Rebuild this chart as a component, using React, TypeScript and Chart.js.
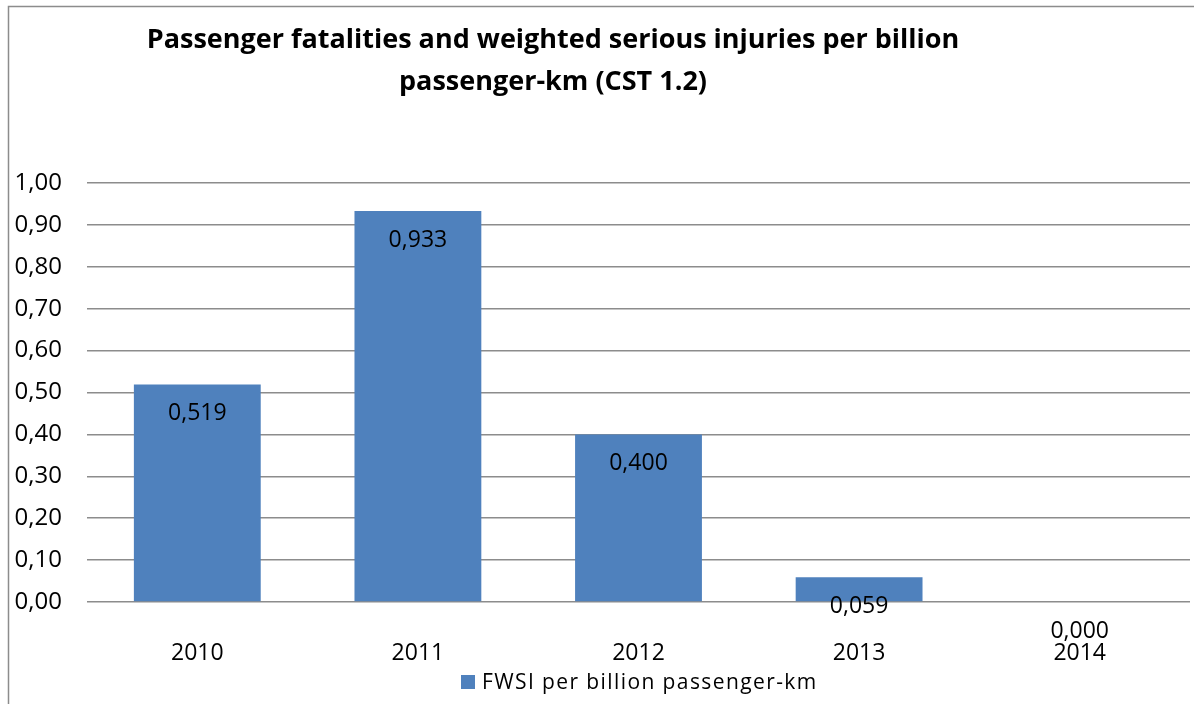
import React, { useEffect, useRef } from "react";
import { Chart, registerables } from "chart.js";

Chart.register(...registerables);

const categories = ["2010", "2011", "2012", "2013", "2014"];
const fwsiValues = [0.519, 0.933, 0.4, 0.059, 0.0];
const seriesLabel = "FWSI per billion passenger-km";
const titleLines = [
  "Passenger fatalities and weighted serious injuries per billion",
  "passenger-km (CST 1.2)",
];

const FONT = "'Open Sans', sans-serif";
const BAR_COLOR = "#4F81BD";
const GRID_COLOR = "#8C8C8C";

const fmt = (v: number, d: number) => v.toFixed(d).replace(".", ",");

const decorPlugin = {
  id: "decor",
  beforeDraw(chart: any) {
    const { ctx } = chart;
    ctx.save();
    ctx.fillStyle = "#ffffff";
    ctx.fillRect(0, 0, chart.width, chart.height);
    ctx.strokeStyle = GRID_COLOR;
    ctx.lineWidth = 1.5;
    ctx.beginPath();
    ctx.moveTo(8.5, chart.height);
    ctx.lineTo(8.5, 6.5);
    ctx.lineTo(chart.width, 6.5);
    ctx.stroke();
    ctx.restore();
  },
  afterDraw(chart: any) {
    const { ctx } = chart;
    ctx.save();
    // title
    ctx.fillStyle = "#000";
    ctx.font = `bold 27px ${FONT}`;
    ctx.textAlign = "center";
    ctx.textBaseline = "middle";
    ctx.fillText(titleLines[0], 553, 40);
    ctx.fillText(titleLines[1], 553, 82);
    // legend
    ctx.fillStyle = BAR_COLOR;
    ctx.fillRect(461, 675, 14, 14);
    ctx.fillStyle = "#000";
    ctx.font = `21px ${FONT}`;
    ctx.textAlign = "left";
    (ctx as any).letterSpacing = "1.4px";
    ctx.fillText(seriesLabel, 482, 683);
    (ctx as any).letterSpacing = "0px";
    // data labels
    const meta = chart.getDatasetMeta(0);
    ctx.font = `23px ${FONT}`;
    ctx.textAlign = "center";
    meta.data.forEach((el: any, i: number) => {
      const v = chart.data.datasets[0].data[i] as number;
      ctx.fillText(fmt(v, 3), el.x, el.y + 29);
    });
    ctx.restore();
  },
};

export default function App() {
  const ref = useRef<HTMLCanvasElement | null>(null);
  useEffect(() => {
    if (!ref.current) return;
    const chart = new Chart(ref.current, {
      type: "bar",
      data: {
        labels: categories,
        datasets: [
          {
            label: seriesLabel,
            data: fwsiValues,
            backgroundColor: BAR_COLOR,
            barPercentage: 0.575,
            categoryPercentage: 1,
          },
        ],
      },
      options: {
        animation: false,
        responsive: false,
        layout: { padding: { left: 8, right: 4, top: 183, bottom: 32 } },
        plugins: {
          legend: { display: false },
          title: { display: false },
          tooltip: { enabled: false },
        },
        scales: {
          x: {
            grid: { display: false, drawTicks: false },
            border: { display: false },
            ticks: { color: "#000", font: { family: FONT, size: 23 }, padding: 38 },
            afterFit: (s: any) => {
              s.height = 70;
            },
          },
          y: {
            min: 0,
            max: 1,
            ticks: {
              stepSize: 0.1,
              color: "#000",
              font: { family: FONT, size: 24 },
              padding: 25,
              callback: (v: any) => fmt(Number(v), 2),
            },
            grid: { color: GRID_COLOR, lineWidth: 1.5, drawTicks: false },
            border: { display: false },
            afterFit: (s: any) => {
              s.width = 79;
            },
          },
        },
      },
      plugins: [decorPlugin],
    });
    return () => chart.destroy();
  }, []);
  return (
    <div style={{ position: "fixed", left: 0, top: 0, width: 1194, height: 704 }}>
      <canvas ref={ref} width={1194} height={704} />
    </div>
  );
}
